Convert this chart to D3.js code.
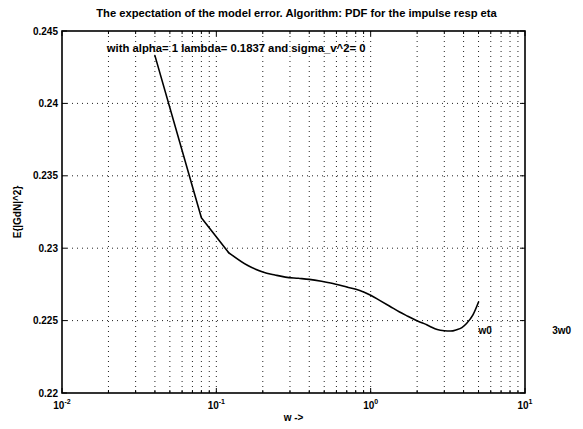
<!DOCTYPE html>
<html>
<head>
<meta charset="utf-8">
<script src="https://cdn.jsdelivr.net/npm/d3@7"></script>
<style>
  html, body { margin: 0; padding: 0; background: #fff; }
  svg { display: block; }
  text { font-family: "Liberation Sans", Arial, Helvetica, sans-serif; fill: #000; }
</style>
</head>
<body>
<svg id="chart" width="583" height="429"></svg>
<script>
// Frequency grid (rad/s) and expected squared model error
const freq = [0.04, 0.08, 0.12, 0.16, 0.20, 0.24, 0.28, 0.34, 0.40, 0.48, 0.55, 0.70,
              0.85, 1.00, 1.15, 1.33, 1.54, 1.74, 1.98, 2.22, 2.41, 2.70, 3.00, 3.30,
              3.60, 3.90, 4.18, 4.60, 5.00];
const expErr = [0.2433, 0.2321, 0.2297, 0.2288, 0.22836, 0.22815, 0.2280, 0.22792, 0.22785,
                0.22772, 0.2276, 0.22732, 0.22708, 0.22675, 0.22638, 0.22599, 0.22559,
                0.2253, 0.225, 0.22479, 0.22461, 0.22438, 0.2243, 0.22428, 0.22437,
                0.22452, 0.2248, 0.22539, 0.22628];
// the first samples are coarse, so they are joined with straight segments
const coarseCount = 3;

// Axis ticks
const xDecades = [0.01, 0.1, 1, 10];
const xDecadeExp = ["-2", "-1", "0", "1"];
const yTicks = [0.22, 0.225, 0.23, 0.235, 0.24, 0.245];
const yTickLabels = ["0.22", "0.225", "0.23", "0.235", "0.24", "0.245"];

// Texts
const titleText = "The expectation of the model error. Algorithm: PDF for the impulse resp eta";
const xLabel = "w ->";
const yLabel = "E{|GdN|^2}";
const noteText = "with alpha= 1 lambda= 0.1837 and sigma_v^2= 0";
const noteAt = [0.0195, 0.2438];
const markTexts = ["w0", "3w0"];
const markAt = [[5, 0.22435], [15, 0.22435]];

const svg = d3.select("#chart");
const L = 62, R = 525, T = 31, B = 393;

const x = d3.scaleLog().domain([0.01, 10]).range([L, R]);
const y = d3.scaleLinear().domain([0.22, 0.245]).range([B, T]);

// minor + major log positions
const xGrid = [];
for (let e = -2; e < 1; e++) {
  for (let m = 1; m <= 9; m++) xGrid.push(m * Math.pow(10, e));
}
xGrid.push(10);
const xMinor = xGrid.filter(v => !xDecades.some(d => Math.abs(d - v) < 1e-12));

const g = svg.append("g");

// dotted grid
g.selectAll("line.xg").data(xGrid.filter(v => v > 0.01 && v < 10)).join("line")
  .attr("x1", d => x(d)).attr("x2", d => x(d))
  .attr("y1", T).attr("y2", B)
  .attr("stroke", "#222").attr("stroke-width", 1)
  .attr("stroke-dasharray", "1,4");
g.selectAll("line.yg").data(yTicks.filter(v => v > 0.22 && v < 0.245)).join("line")
  .attr("x1", L).attr("x2", R)
  .attr("y1", d => y(d)).attr("y2", d => y(d))
  .attr("stroke", "#222").attr("stroke-width", 1)
  .attr("stroke-dasharray", "1,4");

// curve: straight coarse part, smooth fine part
const pts = freq.map((f, i) => [f, expErr[i]]);
const lineLin = d3.line().x(d => x(d[0])).y(d => y(d[1])).curve(d3.curveLinear);
const lineSmooth = d3.line().x(d => x(d[0])).y(d => y(d[1])).curve(d3.curveMonotoneX);
g.append("path").datum(pts.slice(0, coarseCount))
  .attr("d", lineLin)
  .attr("fill", "none").attr("stroke", "#000").attr("stroke-width", 1.6)
  .attr("stroke-linejoin", "round").attr("stroke-linecap", "round");
g.append("path").datum(pts.slice(coarseCount - 1))
  .attr("d", lineSmooth)
  .attr("fill", "none").attr("stroke", "#000").attr("stroke-width", 1.6)
  .attr("stroke-linejoin", "round").attr("stroke-linecap", "round");

// axes box
g.append("rect").attr("x", L).attr("y", T).attr("width", R - L).attr("height", B - T)
  .attr("fill", "none").attr("stroke", "#000").attr("stroke-width", 1.6);

// ticks on all four sides (inward)
const tk = 5, tkm = 3;
xDecades.forEach(v => {
  g.append("line").attr("x1", x(v)).attr("x2", x(v)).attr("y1", B).attr("y2", B - tk).attr("stroke", "#000");
  g.append("line").attr("x1", x(v)).attr("x2", x(v)).attr("y1", T).attr("y2", T + tk).attr("stroke", "#000");
});
xMinor.forEach(v => {
  g.append("line").attr("x1", x(v)).attr("x2", x(v)).attr("y1", B).attr("y2", B - tkm).attr("stroke", "#000");
  g.append("line").attr("x1", x(v)).attr("x2", x(v)).attr("y1", T).attr("y2", T + tkm).attr("stroke", "#000");
});
yTicks.forEach(v => {
  g.append("line").attr("x1", L).attr("x2", L + tk).attr("y1", y(v)).attr("y2", y(v)).attr("stroke", "#000");
  g.append("line").attr("x1", R).attr("x2", R - tk).attr("y1", y(v)).attr("y2", y(v)).attr("stroke", "#000");
});

// y tick labels
g.selectAll("text.yt").data(yTicks).join("text")
  .attr("x", L - 4).attr("y", d => y(d)).attr("dy", "0.35em")
  .attr("text-anchor", "end").attr("font-size", 10).attr("font-weight", "bold")
  .text((d, i) => yTickLabels[i]);

// x tick labels 10^e
xDecades.forEach((v, i) => {
  const t = g.append("text").attr("x", x(v)).attr("y", B + 16)
    .attr("text-anchor", "middle").attr("font-size", 10).attr("font-weight", "bold");
  t.append("tspan").text("10");
  t.append("tspan").attr("dy", -5).attr("font-size", 7).text(xDecadeExp[i]);
});

// title and axis labels
svg.append("text").attr("x", (L + R) / 2 + 3).attr("y", 17)
  .attr("text-anchor", "middle").attr("font-size", 11.2).attr("font-weight", "bold")
  .text(titleText);
svg.append("text").attr("x", (L + R) / 2).attr("y", 421)
  .attr("text-anchor", "middle").attr("font-size", 10).attr("font-weight", "bold")
  .text(xLabel);
svg.append("text")
  .attr("transform", `translate(21,${(T + B) / 2}) rotate(-90)`)
  .attr("text-anchor", "middle").attr("font-size", 10).attr("font-weight", "bold")
  .text(yLabel);

// annotations
svg.append("text").attr("x", x(noteAt[0])).attr("y", y(noteAt[1])).attr("dy", "0.35em")
  .attr("font-size", 11.3).attr("font-weight", "bold").text(noteText);
markTexts.forEach((s, i) => {
  svg.append("text").attr("x", x(markAt[i][0])).attr("y", y(markAt[i][1])).attr("dy", "0.35em")
    .attr("font-size", 10).attr("font-weight", "bold").text(s);
});
</script>
</body>
</html>
